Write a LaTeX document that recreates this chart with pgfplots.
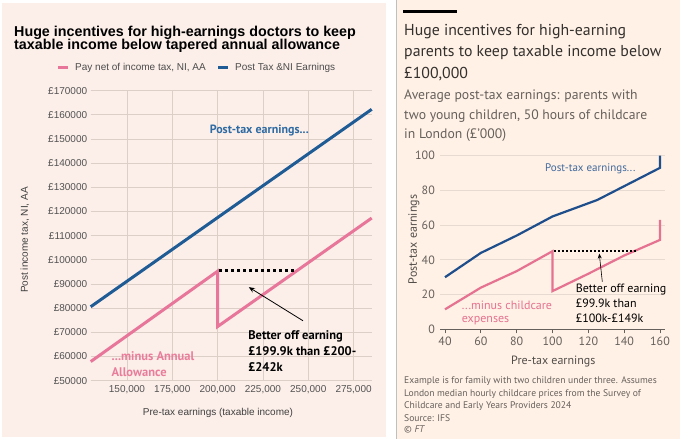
\documentclass[border=0pt]{standalone}
\usepackage{fontspec}
\usepackage{pgfplots}
\pgfplotsset{compat=1.18}
\usetikzlibrary{arrows.meta}
\setmainfont{Liberation Sans}
\newfontfamily\pts{PT Sans}
\definecolor{lbg}{HTML}{FCEFE9}
\definecolor{rbg}{HTML}{FFF1E5}
\definecolor{lgrid}{HTML}{DCCFC7}
\definecolor{navy}{HTML}{1F5B94}
\definecolor{navyt}{HTML}{2E6AA3}
\definecolor{pinkl}{HTML}{E8769A}
\definecolor{pinkt}{HTML}{E97D9B}
\definecolor{rblue}{HTML}{1E4F8C}
\definecolor{rpink}{HTML}{E57290}
\definecolor{ftgrey}{HTML}{66605C}
\definecolor{ftdark}{HTML}{33302E}
\definecolor{rgrid}{HTML}{E7DAD0}
\definecolor{sep}{HTML}{BFBFBF}
\begin{document}
\begin{tikzpicture}
\begin{scope}[x=1pt,y=1pt]
% backgrounds
\fill[white] (0,0) rectangle (680,439);
\fill[lbg] (2,2) rectangle (386,436);
\fill[rbg] (397,0) rectangle (680,439);
\draw[sep, line width=1pt] (396,0) -- (396,439);

% ---------- LEFT CHART texts ----------
\node[anchor=base west, inner sep=0pt, font=\bfseries\fontsize{14.3}{14}\selectfont] at (14,402.5) {Huge incentives for high-earnings doctors to keep};
\node[anchor=base west, inner sep=0pt, font=\bfseries\fontsize{14.3}{14}\selectfont] at (14,389.3) {taxable income below tapered annual allowance};
\draw[pinkl, line width=3pt] (58,371.3) -- (68,371.3);
\node[anchor=west, inner sep=0pt, text=black!70, font=\fontsize{10}{12}\selectfont] at (75,371.3) {Pay net of income tax, NI, AA};
\draw[navy, line width=3pt] (218,371.3) -- (228,371.3);
\node[anchor=west, inner sep=0pt, text=black!70, font=\fontsize{10}{12}\selectfont] at (235,371.3) {Post Tax \&NI Earnings};
\node[inner sep=0pt, text=black!75, font=\fontsize{10}{12}\selectfont] at (218,25.7) {Pre-tax earnings (taxable income)};
\node[inner sep=0pt, rotate=90, text=black!75, font=\fontsize{10}{12}\selectfont] at (25,199) {Post income tax, NI, AA};

% ---------- RIGHT CHART texts ----------
\fill[black] (403,425.5) rectangle (457,428.5);
\begin{scope}[every node/.style={anchor=base west, inner sep=0pt, text=ftdark, font=\pts\fontsize{15.8}{21}\selectfont}]
\node at (404,403) {Huge incentives for high-earning};
\node at (404,382.3) {parents to keep taxable income below};
\node at (404,360.7) {£100,000};
\end{scope}
\begin{scope}[every node/.style={anchor=base west, inner sep=0pt, text=ftgrey, font=\pts\fontsize{13.7}{19}\selectfont}]
\node at (404,339) {Average post-tax earnings: parents with};
\node at (404,319.7) {two young children, 50 hours of childcare};
\node at (404,300.7) {in London (£’000)};
\end{scope}
\begin{scope}[every node/.style={anchor=base west, inner sep=0pt, text=ftgrey, font=\pts\fontsize{9.6}{12}\selectfont}]
\node at (404,55) {Example is for family with two children under three. Assumes};
\node at (404,42.5) {London median hourly childcare prices from the Survey of};
\node at (404,30) {Childcare and Early Years Providers 2024};
\node at (404,17.5) {Source: IFS};
\node at (404,6.5) {© \itshape FT};
\end{scope}
\node[inner sep=0pt, text=ftgrey!80!black, font=\pts\fontsize{12}{14}\selectfont] at (553.3,77.5) {Pre-tax earnings};
\node[inner sep=0pt, rotate=90, text=ftgrey!80!black, font=\pts\fontsize{12}{14}\selectfont] at (414,199.5) {Post-tax earnings};
\end{scope}

\begin{axis}[
  at={(90.7pt,58.3pt)}, anchor=south west, scale only axis,
  width=281pt, height=290pt,
  xmin=130000, xmax=285000, ymin=50000, ymax=170000,
  axis line style={draw=none}, tick style={draw=none},
  scaled ticks=false,
  xtick={150000,175000,200000,225000,250000,275000},
  xticklabels={{150,000},{175,000},{200,000},{225,000},{250,000},{275,000}},
  ytick={50000,60000,70000,80000,90000,100000,110000,120000,130000,140000,150000,160000,170000},
  yticklabels={£50000,£60000,£70000,£80000,£90000,£100000,£110000,£120000,£130000,£140000,£150000,£160000,£170000},
  grid=major, grid style={lgrid, line width=0.8pt},
  tick label style={font=\fontsize{10}{12}\selectfont, text=black!68},
  xticklabel style={yshift=-1pt},
  clip=false,
]
\addplot[navy, line width=3pt] coordinates {(130000,80600)(285000,162300)};
\addplot[pinkl, line width=3pt] coordinates {(130000,57900)(200000,95300)(200000,72400)(285000,117300)};
\addplot[black, line width=2.6pt, dash pattern=on 2.6pt off 3.4pt] coordinates {(201000,95700)(243500,95700)};
\draw[-{Stealth[length=6pt,width=5pt]}, line width=0.8pt] (axis cs:247100,74800) -- (axis cs:217200,88700);
\node[anchor=west, inner sep=0pt, text=navyt, font=\pts\bfseries\fontsize{12}{12}\selectfont] at (axis cs:195600,153700) {Post-tax earnings...};
\node[anchor=west, inner sep=0pt, align=left, text=pinkt, font=\pts\bfseries\fontsize{12.5}{16}\selectfont] at (axis cs:141400,56650) {...minus Annual\\Allowance};
\node[anchor=west, inner sep=0pt, align=left, text=black, font=\pts\bfseries\fontsize{12.5}{16}\selectfont] at (axis cs:216800,62300) {Better off earning\\£199.9k than £200-\\£242k};
\end{axis}

\begin{axis}[
  at={(440pt,109.7pt)}, anchor=south west, scale only axis,
  width=225pt, height=173.6pt,
  xmin=37.2, xmax=162.8, ymin=0, ymax=100,
  axis x line*=bottom, axis y line*=left,
  x axis line style={ftgrey, line width=0.8pt},
  y axis line style={draw=none},
  xtick={40,60,80,100,120,140,160},
  ytick={0,20,40,60,80,100},
  xtick style={ftgrey, line width=0.8pt}, ytick style={draw=none},
  tick align=outside, major tick length=4pt,
  ymajorgrids, grid style={rgrid, line width=0.8pt},
  /pgf/number format/assume math mode=true,
  tick label style={font=\pts\fontsize{12}{14}\selectfont, text=ftgrey},
  yticklabel style={inner sep=1pt},
  clip=false,
]
\addplot[rblue, line width=2.2pt] coordinates {(40,30)(60,44)(80,54)(100,65)(125,74.5)(160,93)(160,100)};
\addplot[rpink, line width=2.2pt] coordinates {(40,11.5)(60,24)(80,33.5)(100,45)(100,22)(120,32)(140,42.5)(160,51.5)(160,63)};
\addplot[black, line width=2pt, dash pattern=on 2pt off 2pt] coordinates {(100.8,45)(147,45)};
\draw[-{Stealth[length=5pt,width=4pt]}, line width=0.6pt] (axis cs:127.8,27.4) -- (axis cs:126.1,43.6);
\node[anchor=west, inner sep=0pt, text=rblue!85!white, font=\pts\fontsize{11}{13}\selectfont] at (axis cs:95.8,92.3) {Post-tax earnings...};
\node[anchor=west, inner sep=0pt, align=left, text=rpink, font=\pts\fontsize{12}{13.3}\selectfont] at (axis cs:49.3,9.6) {...minus childcare\\expenses};
\node[anchor=west, inner sep=0pt, align=left, text=black, font=\pts\fontsize{12}{15}\selectfont] at (axis cs:112.9,15.2) {Better off earning\\£99.9k than\\£100k-£149k};
\end{axis}
\pgfresetboundingbox
\path (0,0) rectangle (680pt,439pt);
\end{tikzpicture}
\end{document}
